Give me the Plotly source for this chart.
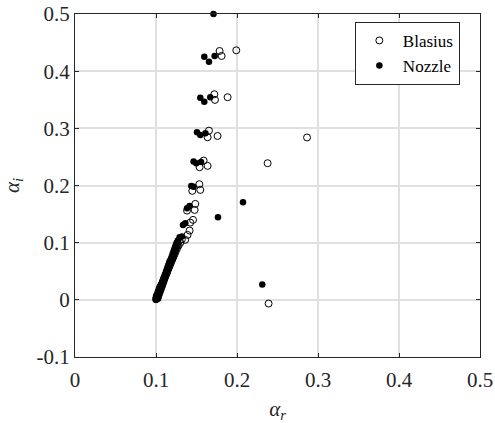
import plotly.graph_objects as go

# Blasius (open circles)
blasius_ar = [0.100, 0.1005, 0.101, 0.102, 0.103, 0.104, 0.105, 0.1065, 0.108, 0.109,
              0.110, 0.1115, 0.113, 0.114, 0.1155, 0.117, 0.1185, 0.120, 0.1215, 0.123,
              0.1245, 0.126, 0.128, 0.130, 0.132, 0.136, 0.139, 0.1415, 0.1423, 0.1457,
              0.1383, 0.1477, 0.1485, 0.1448, 0.1547, 0.1535, 0.1538, 0.1637, 0.1588,
              0.1637, 0.1654, 0.176, 0.1728, 0.172, 0.1884, 0.1785, 0.181, 0.1991,
              0.2378, 0.239, 0.2865]
blasius_ai = [0.001, 0.004, 0.007, 0.010, 0.014, 0.018, 0.022, 0.026, 0.030, 0.034,
              0.038, 0.042, 0.046, 0.050, 0.055, 0.060, 0.065, 0.070, 0.075, 0.080,
              0.085, 0.090, 0.095, 0.100, 0.106, 0.105, 0.1136, 0.1212, 0.1351, 0.1399,
              0.1561, 0.1573, 0.1678, 0.1906, 0.1923, 0.2023, 0.232, 0.2343, 0.2436,
              0.2844, 0.296, 0.2867, 0.3497, 0.3596, 0.3544, 0.4353, 0.4266, 0.4365,
              0.239, -0.0065, 0.284]

# Nozzle (filled dots)
nozzle_ar = [0.100, 0.101, 0.102, 0.103, 0.104, 0.105, 0.106, 0.107, 0.108, 0.109,
             0.110, 0.111, 0.112, 0.113, 0.114, 0.115, 0.116, 0.117, 0.1185, 0.1195,
             0.1205, 0.1215, 0.1225, 0.1235, 0.1245, 0.1255, 0.127,
             0.1025, 0.1035, 0.1045, 0.1055, 0.1065, 0.1075, 0.1085, 0.1095, 0.1105,
             0.1115, 0.1125, 0.1135, 0.1145, 0.1155, 0.1165, 0.1175, 0.1185, 0.1195,
             0.121, 0.122, 0.123, 0.124, 0.125, 0.126, 0.127,
             0.1291, 0.132, 0.1333, 0.1362, 0.1383, 0.1415, 0.1436, 0.1464,
             0.1464, 0.1498, 0.1556, 0.1506, 0.1547, 0.161, 0.1547, 0.1596, 0.167,
             0.1596, 0.1654, 0.1724, 0.171, 0.1765, 0.2074, 0.2312]
nozzle_ai = [0.000, 0.004, 0.008, 0.012, 0.016, 0.020, 0.024, 0.028, 0.032, 0.036,
             0.040, 0.044, 0.048, 0.052, 0.056, 0.060, 0.064, 0.068, 0.072, 0.076,
             0.080, 0.084, 0.088, 0.092, 0.096, 0.100, 0.104,
             0.002, 0.006, 0.010, 0.014, 0.018, 0.022, 0.026, 0.030, 0.034,
             0.038, 0.042, 0.046, 0.050, 0.054, 0.058, 0.062, 0.066, 0.070,
             0.074, 0.078, 0.082, 0.086, 0.090, 0.094, 0.098,
             0.1096, 0.1107, 0.1311, 0.134, 0.1603, 0.1643, 0.1993, 0.198,
             0.2418, 0.239, 0.2413, 0.2932, 0.2885, 0.2914, 0.3537, 0.3467, 0.3544,
             0.4254, 0.4166, 0.4266, 0.500, 0.1446, 0.1708, 0.0268]

x_ticks = [0, 0.1, 0.2, 0.3, 0.4, 0.5]
x_ticktext = ["0", "0.1", "0.2", "0.3", "0.4", "0.5"]
y_ticks = [-0.1, 0, 0.1, 0.2, 0.3, 0.4, 0.5]
y_ticktext = ["-0.1", "0", "0.1", "0.2", "0.3", "0.4", "0.5"]

FONT = "Liberation Serif"
INK = "#262626"

fig = go.Figure()
fig.add_trace(go.Scatter(
    x=blasius_ar, y=blasius_ai, mode="markers", name="Blasius", legendrank=1,
    marker=dict(symbol="circle-open", size=7, color="black", line=dict(width=1)),
    cliponaxis=False))
fig.add_trace(go.Scatter(
    x=nozzle_ar, y=nozzle_ai, mode="markers", name="Nozzle", legendrank=2,
    marker=dict(symbol="circle", size=6.5, color="black", line=dict(width=0)),
    cliponaxis=False))

axis_common = dict(
    showline=True, linecolor=INK, linewidth=1, mirror="ticks",
    ticks="inside", ticklen=4, tickcolor=INK, tickwidth=1,
    showgrid=True, gridcolor="#e0e0e0", gridwidth=1.5, zeroline=False,
    tickfont=dict(family=FONT, size=21, color=INK),
    automargin=False, ticklabeloverflow="allow",
)

fig.update_xaxes(range=[0, 0.5], tickvals=x_ticks, ticktext=x_ticktext,
                 ticklabelstandoff=4,
                 title=dict(text="<i>α</i><sub><i>r</i></sub>",
                            font=dict(family=FONT, size=21, color=INK)),
                 **axis_common)
fig.update_yaxes(range=[-0.1, 0.5], tickvals=y_ticks, ticktext=y_ticktext,
                 title=dict(text="<i>α</i><sub><i>i</i></sub>",
                            font=dict(family=FONT, size=21, color=INK)),
                 **axis_common)

fig.update_layout(
    width=495, height=423,
    margin=dict(l=75, r=15, t=14, b=66, autoexpand=False),
    plot_bgcolor="white", paper_bgcolor="white",
    showlegend=True,
    legend=dict(x=0.691, y=0.977, xanchor="left", yanchor="top",
                bgcolor="white", bordercolor=INK, borderwidth=1,
                font=dict(family=FONT, size=17, color="black"),
                itemwidth=37, tracegroupgap=0),
)

fig.write_html("out.html",
               config={"displayModeBar": False},
               post_script="document.body.style.margin='0';"
                           "document.body.style.overflow='hidden';")
